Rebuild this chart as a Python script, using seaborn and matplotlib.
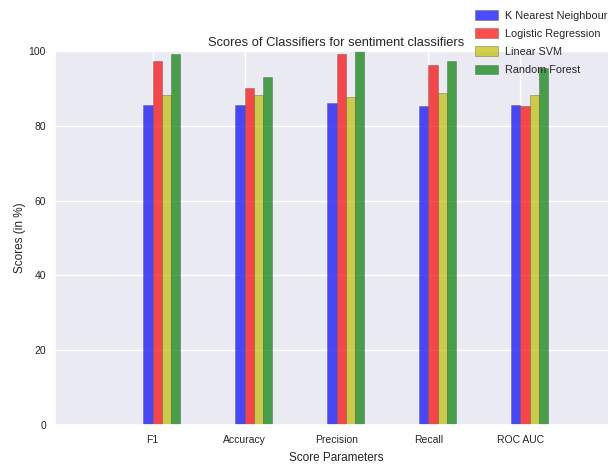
import matplotlib
matplotlib.use("Agg")
import matplotlib.pyplot as plt
import seaborn as sns
import pandas as pd

categories = ["F1", "Accuracy", "Precision", "Recall", "ROC AUC"]
classifiers = ["K Nearest Neighbour", "Logistic Regression", "Linear SVM", "Random Forest"]
knn = [85.6, 85.5, 86.0, 85.3, 85.5]
logreg = [97.3, 90.1, 99.2, 96.3, 85.3]
svm = [88.2, 88.2, 87.7, 88.8, 88.2]
rf = [99.2, 93.0, 100.0, 97.3, 95.5]
colors = ["#0000ff", "#ff0000", "#bfbf00", "#008000"]

rows = []
for name, vals in zip(classifiers, [knn, logreg, svm, rf]):
    for c, v in zip(categories, vals):
        rows.append({"Score Parameters": c, "Classifier": name, "Score": v})
df = pd.DataFrame(rows)

sns.set_theme(style="darkgrid")
plt.rcParams["font.family"] = ["Liberation Sans", "DejaVu Sans"]

fig = plt.figure(figsize=(6.08, 4.66), dpi=100)
ax = fig.add_axes([55 / 608, 1 - 425 / 466, (618 - 55) / 608, (425 - 51) / 466])

sns.barplot(data=df, x="Score Parameters", y="Score", hue="Classifier",
            hue_order=classifiers, order=categories, palette=colors,
            width=0.4, alpha=0.7, edgecolor="#555555", linewidth=0.4,
            errorbar=None, ax=ax, saturation=1)

ax.set_xticks([i - 0.1 for i in range(len(categories))])
ax.set_xticklabels(categories)
ax.set_xlim(-1.16, 4.96)
ax.set_ylim(0, 100)
ax.set_yticks([0, 20, 40, 60, 80, 100])
ax.tick_params(axis="x", labelsize=7.5, colors="#262626", length=0, pad=7.5)
ax.tick_params(axis="y", labelsize=7.5, colors="#262626", length=0, pad=6.5)
ax.set_xlabel("Score Parameters", fontsize=8.5, color="#262626", labelpad=5)
ax.set_ylabel("Scores (in %)", fontsize=8.5, color="#262626", labelpad=2)
ax.set_title("Scores of Classifiers for sentiment classifiers", fontsize=9.3, color="#262626", pad=3.5)
ax.grid(axis="x", color="white", linewidth=1)
ax.grid(axis="y", color="white", linewidth=1)

leg = ax.legend(loc="upper left", bbox_to_anchor=(472 / 608, 1 - 7 / 466), bbox_transform=fig.transFigure,
                frameon=False, fontsize=7.85, handlelength=2.05, handleheight=0.95,
                labelspacing=0.7, borderaxespad=0.0, borderpad=0.3, handletextpad=0.7)

fig.savefig("out.png", dpi=100)
